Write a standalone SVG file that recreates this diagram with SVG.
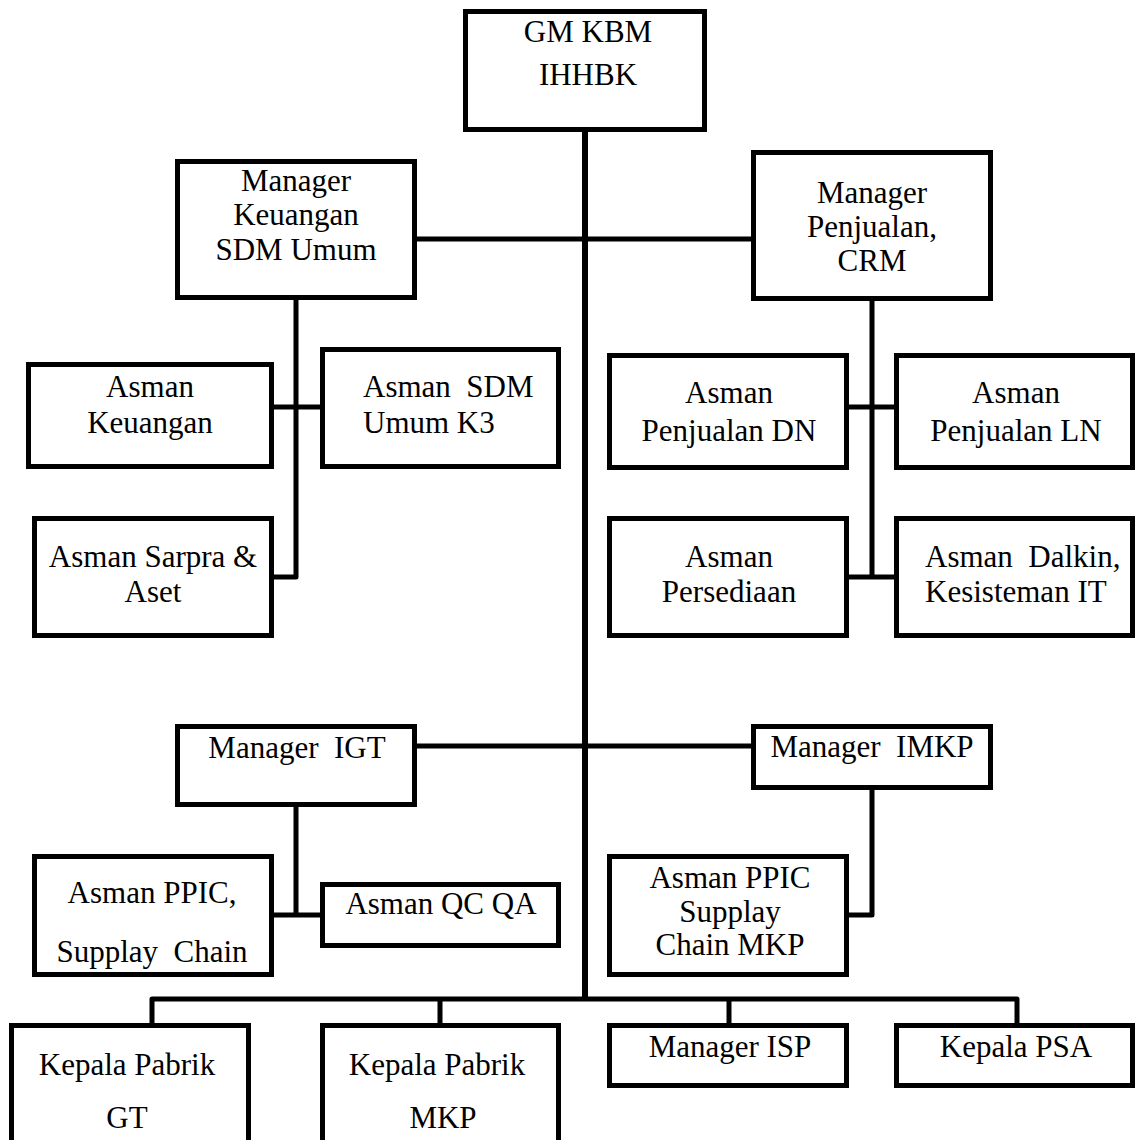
<svg xmlns="http://www.w3.org/2000/svg" width="1135" height="1140" viewBox="0 0 1135 1140">
<style>
.box{fill:#fff;stroke:#000;stroke-width:5}
.t{font-family:"Liberation Serif","Times New Roman",serif;font-size:31px;fill:#000;text-anchor:middle;white-space:pre}
.s{text-anchor:start}
.c{fill:none;stroke:#000;stroke-width:5;stroke-linejoin:round}
</style>
<rect x="0" y="0" width="1135" height="1140" fill="#fff"/>
<g id="connectors">
<path class="c" d="M585,132 V999" style="stroke-width:6"/>
<path class="c" d="M417,239 H751"/>
<path class="c" d="M296,300 V577 H274"/>
<path class="c" d="M274,407 H320"/>
<path class="c" d="M872,301 V577"/>
<path class="c" d="M849,407 H894"/>
<path class="c" d="M849,577 H894"/>
<path class="c" d="M417,746 H751"/>
<path class="c" d="M296,807 V915"/>
<path class="c" d="M274,915 H320"/>
<path class="c" d="M872,790 V915 H849"/>
<path class="c" d="M152,1023 V999 H1017 V1023"/>
<path class="c" d="M440,999 V1023"/>
<path class="c" d="M729,999 V1023"/>
</g>
<g id="gm">
<rect class="box" x="465.5" y="11.5" width="239" height="118"/>
<text class="t" x="588" y="42">GM KBM</text>
<text class="t" x="588" y="85">IHHBK</text>
</g>
<g id="mgr-keuangan">
<rect class="box" x="177.5" y="161.5" width="237" height="136"/>
<text class="t" x="296" y="191">Manager</text>
<text class="t" x="296" y="225">Keuangan</text>
<text class="t" x="296" y="260">SDM Umum</text>
</g>
<g id="mgr-penjualan">
<rect class="box" x="753.5" y="152.5" width="237" height="146"/>
<text class="t" x="872" y="203">Manager</text>
<text class="t" x="872" y="237">Penjualan,</text>
<text class="t" x="872" y="271">CRM</text>
</g>
<g id="asman-keuangan">
<rect class="box" x="28.5" y="364.5" width="243" height="102"/>
<text class="t" x="150" y="397">Asman</text>
<text class="t" x="150" y="433">Keuangan</text>
</g>
<g id="asman-sdm">
<rect class="box" x="322.5" y="349.5" width="236" height="117"/>
<text class="t s" x="363" y="397">Asman  SDM</text>
<text class="t s" x="363" y="433">Umum K3</text>
</g>
<g id="asman-sarpra">
<rect class="box" x="34.5" y="518.5" width="237" height="117"/>
<text class="t" x="153" y="567">Asman Sarpra &amp;</text>
<text class="t" x="153" y="602">Aset</text>
</g>
<g id="asman-penjualan-dn">
<rect class="box" x="609.5" y="355.5" width="237" height="112"/>
<text class="t" x="729" y="403">Asman</text>
<text class="t" x="729" y="441">Penjualan DN</text>
</g>
<g id="asman-penjualan-ln">
<rect class="box" x="896.5" y="355.5" width="236" height="112"/>
<text class="t" x="1016" y="403">Asman</text>
<text class="t" x="1016" y="441">Penjualan LN</text>
</g>
<g id="asman-persediaan">
<rect class="box" x="609.5" y="518.5" width="237" height="117"/>
<text class="t" x="729" y="567">Asman</text>
<text class="t" x="729" y="602">Persediaan</text>
</g>
<g id="asman-dalkin">
<rect class="box" x="896.5" y="518.5" width="236" height="117"/>
<text class="t s" x="925" y="567">Asman  Dalkin,</text>
<text class="t s" x="925" y="602">Kesisteman IT</text>
</g>
<g id="mgr-igt">
<rect class="box" x="177.5" y="726.5" width="237" height="78"/>
<text class="t" x="297" y="758">Manager  IGT</text>
</g>
<g id="mgr-imkp">
<rect class="box" x="753.5" y="726.5" width="237" height="61"/>
<text class="t" x="872" y="757">Manager  IMKP</text>
</g>
<g id="asman-ppic">
<rect class="box" x="34.5" y="856.5" width="237" height="118"/>
<text class="t" x="152" y="903">Asman PPIC,</text>
<text class="t" x="152" y="962">Supplay  Chain</text>
</g>
<g id="asman-qcqa">
<rect class="box" x="322.5" y="884.5" width="236" height="61"/>
<text class="t" x="441" y="914">Asman QC QA</text>
</g>
<g id="asman-ppic-mkp">
<rect class="box" x="609.5" y="856.5" width="237" height="118"/>
<text class="t" x="730" y="888">Asman PPIC</text>
<text class="t" x="730" y="922">Supplay</text>
<text class="t" x="730" y="955">Chain MKP</text>
</g>
<g id="kepala-pabrik-gt">
<rect class="box" x="11.5" y="1025.5" width="237" height="130"/>
<text class="t" x="127" y="1075">Kepala Pabrik</text>
<text class="t" x="127" y="1128">GT</text>
</g>
<g id="kepala-pabrik-mkp">
<rect class="box" x="322.5" y="1025.5" width="236" height="130"/>
<text class="t" x="437" y="1075">Kepala Pabrik</text>
<text class="t" x="443" y="1128">MKP</text>
</g>
<g id="mgr-isp">
<rect class="box" x="609.5" y="1025.5" width="237" height="60"/>
<text class="t" x="730" y="1057">Manager ISP</text>
</g>
<g id="kepala-psa">
<rect class="box" x="896.5" y="1025.5" width="236" height="60"/>
<text class="t" x="1016" y="1057">Kepala PSA</text>
</g>
</svg>
